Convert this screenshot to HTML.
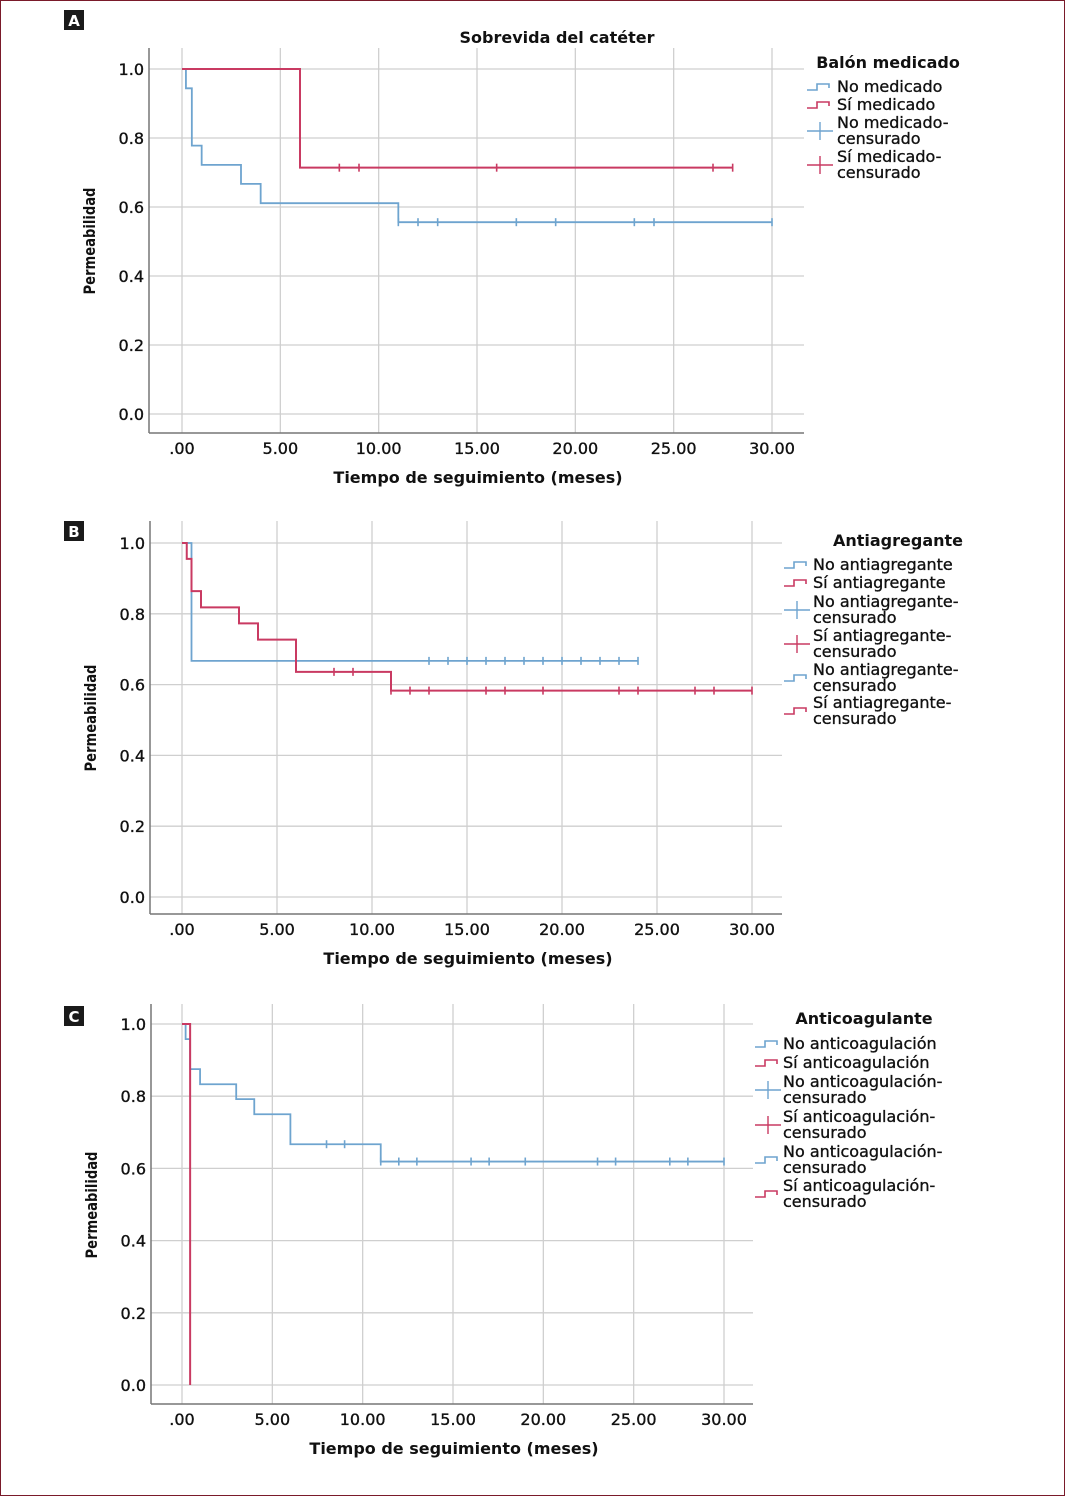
<!DOCTYPE html>
<html><head><meta charset="utf-8">
<style>
html,body{margin:0;padding:0;background:#fff}
svg{display:block}
text{font-family:"DejaVu Sans","Liberation Sans",sans-serif;fill:#111}
.med{stroke:#111;stroke-width:0.35px}
</style></head>
<body>
<svg id="fig" width="1065" height="1496" viewBox="0 0 1065 1496" xmlns="http://www.w3.org/2000/svg">
<rect x="0.5" y="0.5" width="1064" height="1495" fill="#fff" stroke="#7a1a2a" stroke-width="1"/>
</svg>
<script>
// ---- Panel A data ----
const xTicks = [0,5,10,15,20,25,30];
const xTickLabels = [".00","5.00","10.00","15.00","20.00","25.00","30.00"];
const yTicks = [0,0.2,0.4,0.6,0.8,1.0];
const yTickLabels = ["0.0","0.2","0.4","0.6","0.8","1.0"];

const aBlueTimes = [0,0.2,0.5,1,3,4,11,30];
const aBlueSurv  = [1,0.944,0.778,0.722,0.667,0.611,0.556,0.556];
const aBlueCens  = [11,12,13,17,19,23,24,30];
const aRedTimes  = [0,6,28];
const aRedSurv   = [1,0.714,0.714];
const aRedCens   = [8,9,16,27,28];

// ---- Panel B data ----
const bBlueTimes = [0,0.5,24];
const bBlueSurv  = [1,0.667,0.667];
const bBlueCens  = [13,14,15,16,17,18,19,20,21,22,23,24];
const bRedTimes  = [0,0.25,0.5,1,3,4,6,11,30];
const bRedSurv   = [1,0.955,0.864,0.818,0.773,0.727,0.636,0.583,0.583];
const bRedCens   = [8,9,11,12,13,16,17,19,23,24,27,28,30];

// ---- Panel C data ----
const cBlueTimes = [0,0.2,0.45,1,3,4,6,11,30];
const cBlueSurv  = [1,0.958,0.875,0.833,0.792,0.75,0.667,0.619,0.619];
const cBlueCens  = [8,9,11,12,13,16,17,19,23,24,27,28,30];
const cRedTimes  = [0,0.45];
const cRedSurv   = [1,0];
const cRedCens   = [];

const BLUE="#6ea4cf", RED="#c93a62";
const NS="http://www.w3.org/2000/svg";
const svg=document.getElementById('fig');
function el(tag,attrs,parent){const e=document.createElementNS(NS,tag);for(const k in attrs)e.setAttribute(k,attrs[k]);(parent||svg).appendChild(e);return e;}
function txt(s,attrs,parent){const t=el('text',attrs,parent);t.textContent=s;return t;}

function panel(cfg){
  const g=el('g',{});
  
  
  const sx=v=>cfg.x0+(v)*(cfg.x30-cfg.x0)/30;
  const sy=v=>cfg.y0+(v)*(cfg.y1-cfg.y0);
  const b=el('rect',{x:64,y:cfg.badgeY,width:20,height:20,fill:'#1a1a1a'},g);
  
  
  txt(cfg.id,{x:74,y:cfg.badgeY+16,'text-anchor':'middle','font-size':15,'font-weight':'bold',fill:'#fff',style:'fill:#fff'},g);
  xTicks.forEach((t,i)=>{
    const l=el('line',{x1:sx(t),x2:sx(t),y1:cfg.top,y2:cfg.bottom,stroke:'#cfcfcf','stroke-width':1.3},g);
    
    
    const tl=txt(xTickLabels[i],{x:sx(t),y:cfg.bottom+21,'text-anchor':'middle','font-size':16,class:'med'},g);
    
    
  });
  yTicks.forEach((t,i)=>{
    const l=el('line',{x1:cfg.left,x2:cfg.right,y1:sy(t),y2:sy(t),stroke:'#cfcfcf','stroke-width':1.3},g);
    
    
    const tl=txt(yTickLabels[i],{x:cfg.left-5,y:sy(t)+6,'text-anchor':'end','font-size':16,class:'med'},g);
    
    
  });
  el('line',{x1:cfg.left,x2:cfg.left,y1:cfg.top,y2:cfg.bottom,stroke:'#777','stroke-width':1.5},g);
  el('line',{x1:cfg.left,x2:cfg.right,y1:cfg.bottom,y2:cfg.bottom,stroke:'#777','stroke-width':1.5},g);
  const xt=txt('Tiempo de seguimiento (meses)',{x:cfg.xTitleX,y:cfg.bottom+50,'text-anchor':'middle','font-size':16,'font-weight':'bold'},g);
  
  
  const yt=txt('Permeabilidad',{x:0,y:0,'text-anchor':'middle','font-size':16,'font-weight':'bold',transform:`translate(${cfg.left-54},${cfg.yTitleY}) rotate(-90) scale(0.82,1)`},g);
  
  
  if(cfg.title){
    const tt=txt(cfg.title,{x:557,y:43,'text-anchor':'middle','font-size':16,'font-weight':'bold'},g);
    
    
  }
  function series(times,surv,cens,color,name){
    let d=`M${sx(times[0])},${sy(surv[0])}`;
    for(let i=1;i<times.length;i++){d+=` H${sx(times[i])} V${sy(surv[i])}`;}
    const p=el('path',{d:d,fill:'none',stroke:color,'stroke-width':name.includes('red')?2:1.8},g);
    
    
    cens.forEach(c=>{
      let s=surv[0];
      for(let i=0;i<times.length;i++){if(times[i]<=c)s=surv[i];}
      const m=el('line',{x1:sx(c),x2:sx(c),y1:sy(s)-4,y2:sy(s)+4,stroke:color,'stroke-width':1.6},g);
      
      
    });
  }
  series(cfg.blue[0],cfg.blue[1],cfg.blue[2],BLUE,'blue');
  series(cfg.red[0],cfg.red[1],cfg.red[2],RED,'red');
  const lt=txt(cfg.legTitle,{x:cfg.legTitleX,y:cfg.legTitleY,'text-anchor':'middle','font-size':16,'font-weight':'bold'},g);
  
  
  cfg.items.forEach(it=>{
    const lg=el('g',{},g);
    
    
    const ix=cfg.legIconX, iy=it.y-5+(it.l2?8:0);
    const col=it.c==='b'?BLUE:RED;
    if(it.t==='step'){
      el('path',{d:`M${ix},${iy+3} H${ix+10} V${iy-3} H${ix+22} V${iy+1}`,fill:'none',stroke:col,'stroke-width':1.6},lg);
    }else{
      el('line',{x1:ix,x2:ix+26,y1:iy,y2:iy,stroke:col,'stroke-width':1.4},lg);
      el('line',{x1:ix+13,x2:ix+13,y1:iy-9,y2:iy+9,stroke:col,'stroke-width':1.4},lg);
    }
    txt(it.l1,{x:cfg.legTextX,y:it.y,'font-size':16,class:'med'},lg);
    if(it.l2) txt(it.l2,{x:cfg.legTextX,y:it.y+16,'font-size':16,class:'med'},lg);
  });
}

panel({id:'A',badgeY:10,left:149,right:804,top:48,bottom:433,x0:182,x30:772,y0:414,y1:69,
  xTitleX:478,yTitleY:241,title:'Sobrevida del catéter',
  blue:[aBlueTimes,aBlueSurv,aBlueCens],red:[aRedTimes,aRedSurv,aRedCens],
  legTitle:'Balón medicado',legTitleX:888,legTitleY:68,legIconX:807,legTextX:837,
  items:[{t:'step',c:'b',l1:'No medicado',y:92},{t:'step',c:'r',l1:'Sí medicado',y:110},
   {t:'cens',c:'b',l1:'No medicado-',l2:'censurado',y:128},{t:'cens',c:'r',l1:'Sí medicado-',l2:'censurado',y:162}]});

panel({id:'B',badgeY:521,left:150,right:782,top:521,bottom:914,x0:182,x30:752,y0:897,y1:543,
  xTitleX:468,yTitleY:718,
  blue:[bBlueTimes,bBlueSurv,bBlueCens],red:[bRedTimes,bRedSurv,bRedCens],
  legTitle:'Antiagregante',legTitleX:898,legTitleY:546,legIconX:784,legTextX:813,
  items:[{t:'step',c:'b',l1:'No antiagregante',y:570},{t:'step',c:'r',l1:'Sí antiagregante',y:588},
   {t:'cens',c:'b',l1:'No antiagregante-',l2:'censurado',y:607},{t:'cens',c:'r',l1:'Sí antiagregante-',l2:'censurado',y:641},
   {t:'step',c:'b',l1:'No antiagregante-',l2:'censurado',y:675},{t:'step',c:'r',l1:'Sí antiagregante-',l2:'censurado',y:708}]});

panel({id:'C',badgeY:1006,left:151,right:753,top:1004,bottom:1404,x0:182,x30:724,y0:1385,y1:1024,
  xTitleX:454,yTitleY:1205,
  blue:[cBlueTimes,cBlueSurv,cBlueCens],red:[cRedTimes,cRedSurv,cRedCens],
  legTitle:'Anticoagulante',legTitleX:864,legTitleY:1024,legIconX:755,legTextX:783,
  items:[{t:'step',c:'b',l1:'No anticoagulación',y:1049},{t:'step',c:'r',l1:'Sí anticoagulación',y:1068},
   {t:'cens',c:'b',l1:'No anticoagulación-',l2:'censurado',y:1087},{t:'cens',c:'r',l1:'Sí anticoagulación-',l2:'censurado',y:1122},
   {t:'step',c:'b',l1:'No anticoagulación-',l2:'censurado',y:1157},{t:'step',c:'r',l1:'Sí anticoagulación-',l2:'censurado',y:1191}]});
</script>
</body></html>
